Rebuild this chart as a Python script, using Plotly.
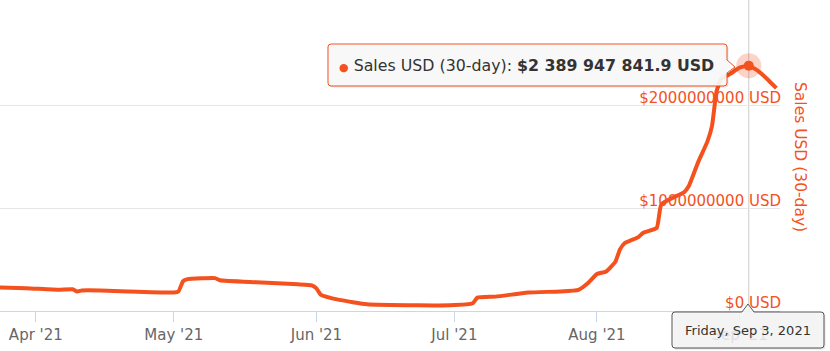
import plotly.graph_objects as go

# ---------------- data ----------------
dates = [
    "2021-03-24", "2021-03-30", "2021-04-06", "2021-04-09", "2021-04-10", "2021-04-11",
    "2021-04-15", "2021-04-21", "2021-05-01", "2021-05-02", "2021-05-03", "2021-05-04",
    "2021-05-10", "2021-05-11", "2021-05-19", "2021-05-28", "2021-05-31", "2021-06-01",
    "2021-06-02", "2021-06-06", "2021-06-12", "2021-06-23", "2021-06-30", "2021-07-05",
    "2021-07-06", "2021-07-10", "2021-07-17", "2021-07-24", "2021-07-28", "2021-07-30",
    "2021-08-01", "2021-08-03", "2021-08-05", "2021-08-06", "2021-08-07", "2021-08-10",
    "2021-08-11", "2021-08-14", "2021-08-15", "2021-08-20", "2021-08-21", "2021-08-23",
    "2021-08-25", "2021-08-26", "2021-08-27", "2021-08-28", "2021-08-30", "2021-09-01",
    "2021-09-03", "2021-09-05", "2021-09-07", "2021-09-09",
]
sales_usd = [
    228e6, 222e6, 206e6, 212e6, 190e6, 200e6,
    200e6, 190e6, 180e6, 190e6, 290e6, 310e6,
    320e6, 300e6, 280e6, 260e6, 250e6, 220e6,
    157e6, 108e6, 66e6, 55e6, 55e6, 75e6,
    130e6, 140e6, 180e6, 190e6, 206e6, 270e6,
    360e6, 385e6, 480e6, 600e6, 660e6, 720e6,
    760e6, 810e6, 1040e6, 1160e6, 1220e6, 1450e6,
    1650e6, 1800e6, 2140e6, 2260e6, 2310e6, 2370e6,
    2389947841.9, 2340e6, 2260e6, 2170e6,
]
highlight_date = "2021-09-03"
highlight_value = 2389947841.9

x_tick_vals = ["2021-04-01", "2021-05-01", "2021-06-01", "2021-07-01", "2021-08-01", "2021-09-01"]
x_tick_text = ["Apr '21", "May '21", "Jun '21", "Jul '21", "Aug '21", "Sep '21"]
y_tick_vals = [0, 1e9, 2e9, 3e9]
y_tick_text = ["$0 USD", "$1000000000 USD", "$2000000000 USD", ""]

series_name = "Sales USD (30-day)"
tooltip_value = "$2 389 947 841.9 USD"
tooltip_date = "Friday, Sep 3, 2021"

# ---------------- style ----------------
ORANGE = "#f4511e"
FONT = "DejaVu Sans"
W, H = 830, 351
PL, PR, PT, PB = 0, 780, 3, 311


def X(px):
    return (px - PL) / (PR - PL)


def Y(py):
    return (PB - py) / (PB - PT)


def callout(x0, y0, x1, y1, r, pointer, dx=0, dy=0):
    """Rounded box path with a pointer, in paper coords from pixel coords."""
    def P(px, py):
        return f"{X(px + dx):.5f},{Y(py + dy):.5f}"
    side, a, tip, b = pointer
    d = f"M {P(x0 + r, y0)} "
    if side == "top":
        d += f"L {P(a, y0)} L {P(*tip)} L {P(b, y0)} "
    d += f"L {P(x1 - r, y0)} Q {P(x1, y0)} {P(x1, y0 + r)} "
    if side == "right":
        d += f"L {P(x1, a)} L {P(*tip)} L {P(x1, b)} "
    d += f"L {P(x1, y1 - r)} Q {P(x1, y1)} {P(x1 - r, y1)} "
    d += f"L {P(x0 + r, y1)} Q {P(x0, y1)} {P(x0, y1 - r)} "
    d += f"L {P(x0, y0 + r)} Q {P(x0, y0)} {P(x0 + r, y0)} Z"
    return d


fig = go.Figure()
fig.add_trace(go.Scatter(
    x=dates, y=sales_usd, mode="lines", name=series_name,
    line=dict(color=ORANGE, width=4, shape="spline", smoothing=0.4),
    hoverinfo="skip",
))
# halo + highlighted marker
fig.add_trace(go.Scatter(
    x=[highlight_date], y=[highlight_value], mode="markers",
    marker=dict(size=25, color="rgba(244,81,30,0.25)"), hoverinfo="skip",
))
fig.add_trace(go.Scatter(
    x=[highlight_date], y=[highlight_value], mode="markers",
    marker=dict(size=10, color=ORANGE), hoverinfo="skip",
))

shapes = [
    # crosshair
    dict(type="line", xref="x", yref="paper", x0=highlight_date, x1=highlight_date,
         y0=0, y1=Y(0), line=dict(color="#cccccc", width=1), layer="below"),
]
# top tooltip (shadow + box)
top_ptr = ("right", 60, (735, 67), 73)
shapes.append(dict(type="path", xref="paper", yref="paper",
                   path=callout(328, 44, 727, 86, 3, top_ptr, 1.5, 1.5),
                   fillcolor="rgba(0,0,0,0.10)", line=dict(width=0)))
shapes.append(dict(type="path", xref="paper", yref="paper",
                   path=callout(328, 44, 727, 86, 3, top_ptr),
                   fillcolor="rgba(250,250,250,0.92)", line=dict(color=ORANGE, width=1)))
# bottom date label
bot_ptr = ("top", 742, (748, 304), 754)
shapes.append(dict(type="path", xref="paper", yref="paper",
                   path=callout(672, 312, 824, 348, 3, bot_ptr, 1.5, 1.5),
                   fillcolor="rgba(0,0,0,0.10)", line=dict(width=0)))
shapes.append(dict(type="path", xref="paper", yref="paper",
                   path=callout(672, 312, 824, 348, 3, bot_ptr),
                   fillcolor="rgba(247,247,247,0.85)", line=dict(color="#555555", width=1)))

annotations = [
    dict(xref="paper", yref="paper", x=X(337), y=Y(65.5), xanchor="left", yanchor="middle",
         showarrow=False,
         text=f'<span style="color:{ORANGE};font-size:11px">●</span> {series_name}: <b>{tooltip_value}</b>',
         font=dict(family=FONT, size=15.8, color="#333333")),
    dict(xref="paper", yref="paper", x=X(748), y=Y(330.5), xanchor="center", yanchor="middle",
         showarrow=False, text=tooltip_date,
         font=dict(family=FONT, size=13, color="#333333")),
    dict(xref="paper", yref="paper", x=X(800), y=Y(157), xanchor="center", yanchor="middle",
         showarrow=False, text=series_name, textangle=90,
         font=dict(family=FONT, size=15.5, color=ORANGE)),
]

fig.update_layout(
    width=W, height=H,
    margin=dict(l=PL, r=W - PR, t=PT, b=H - PB),
    paper_bgcolor="white", plot_bgcolor="white",
    showlegend=False,
    font=dict(family=FONT),
    shapes=shapes, annotations=annotations,
    xaxis=dict(
        type="date", range=["2021-03-24 05:00", "2021-09-09 19:00"],
        tickvals=x_tick_vals, ticktext=x_tick_text,
        ticks="outside", ticklen=10, tickcolor="#ccd6eb", tickwidth=1,
        showline=True, linecolor="#ccd6eb", linewidth=1,
        showgrid=False, zeroline=False,
        tickfont=dict(family=FONT, size=15, color="#666666"),
    ),
    yaxis=dict(
        side="right", range=[0, 3e9],
        tickvals=y_tick_vals, ticktext=y_tick_text,
        ticklabelposition="inside", ticklabelshift=-8, ticklabelstandoff=-4,
        ticklabeloverflow="allow",
        showgrid=True, gridcolor="#e6e6e6", gridwidth=1,
        zeroline=False, showline=False, ticks="",
        tickfont=dict(family=FONT, size=15, color=ORANGE),
    ),
)

fig.write_html("out.html")
